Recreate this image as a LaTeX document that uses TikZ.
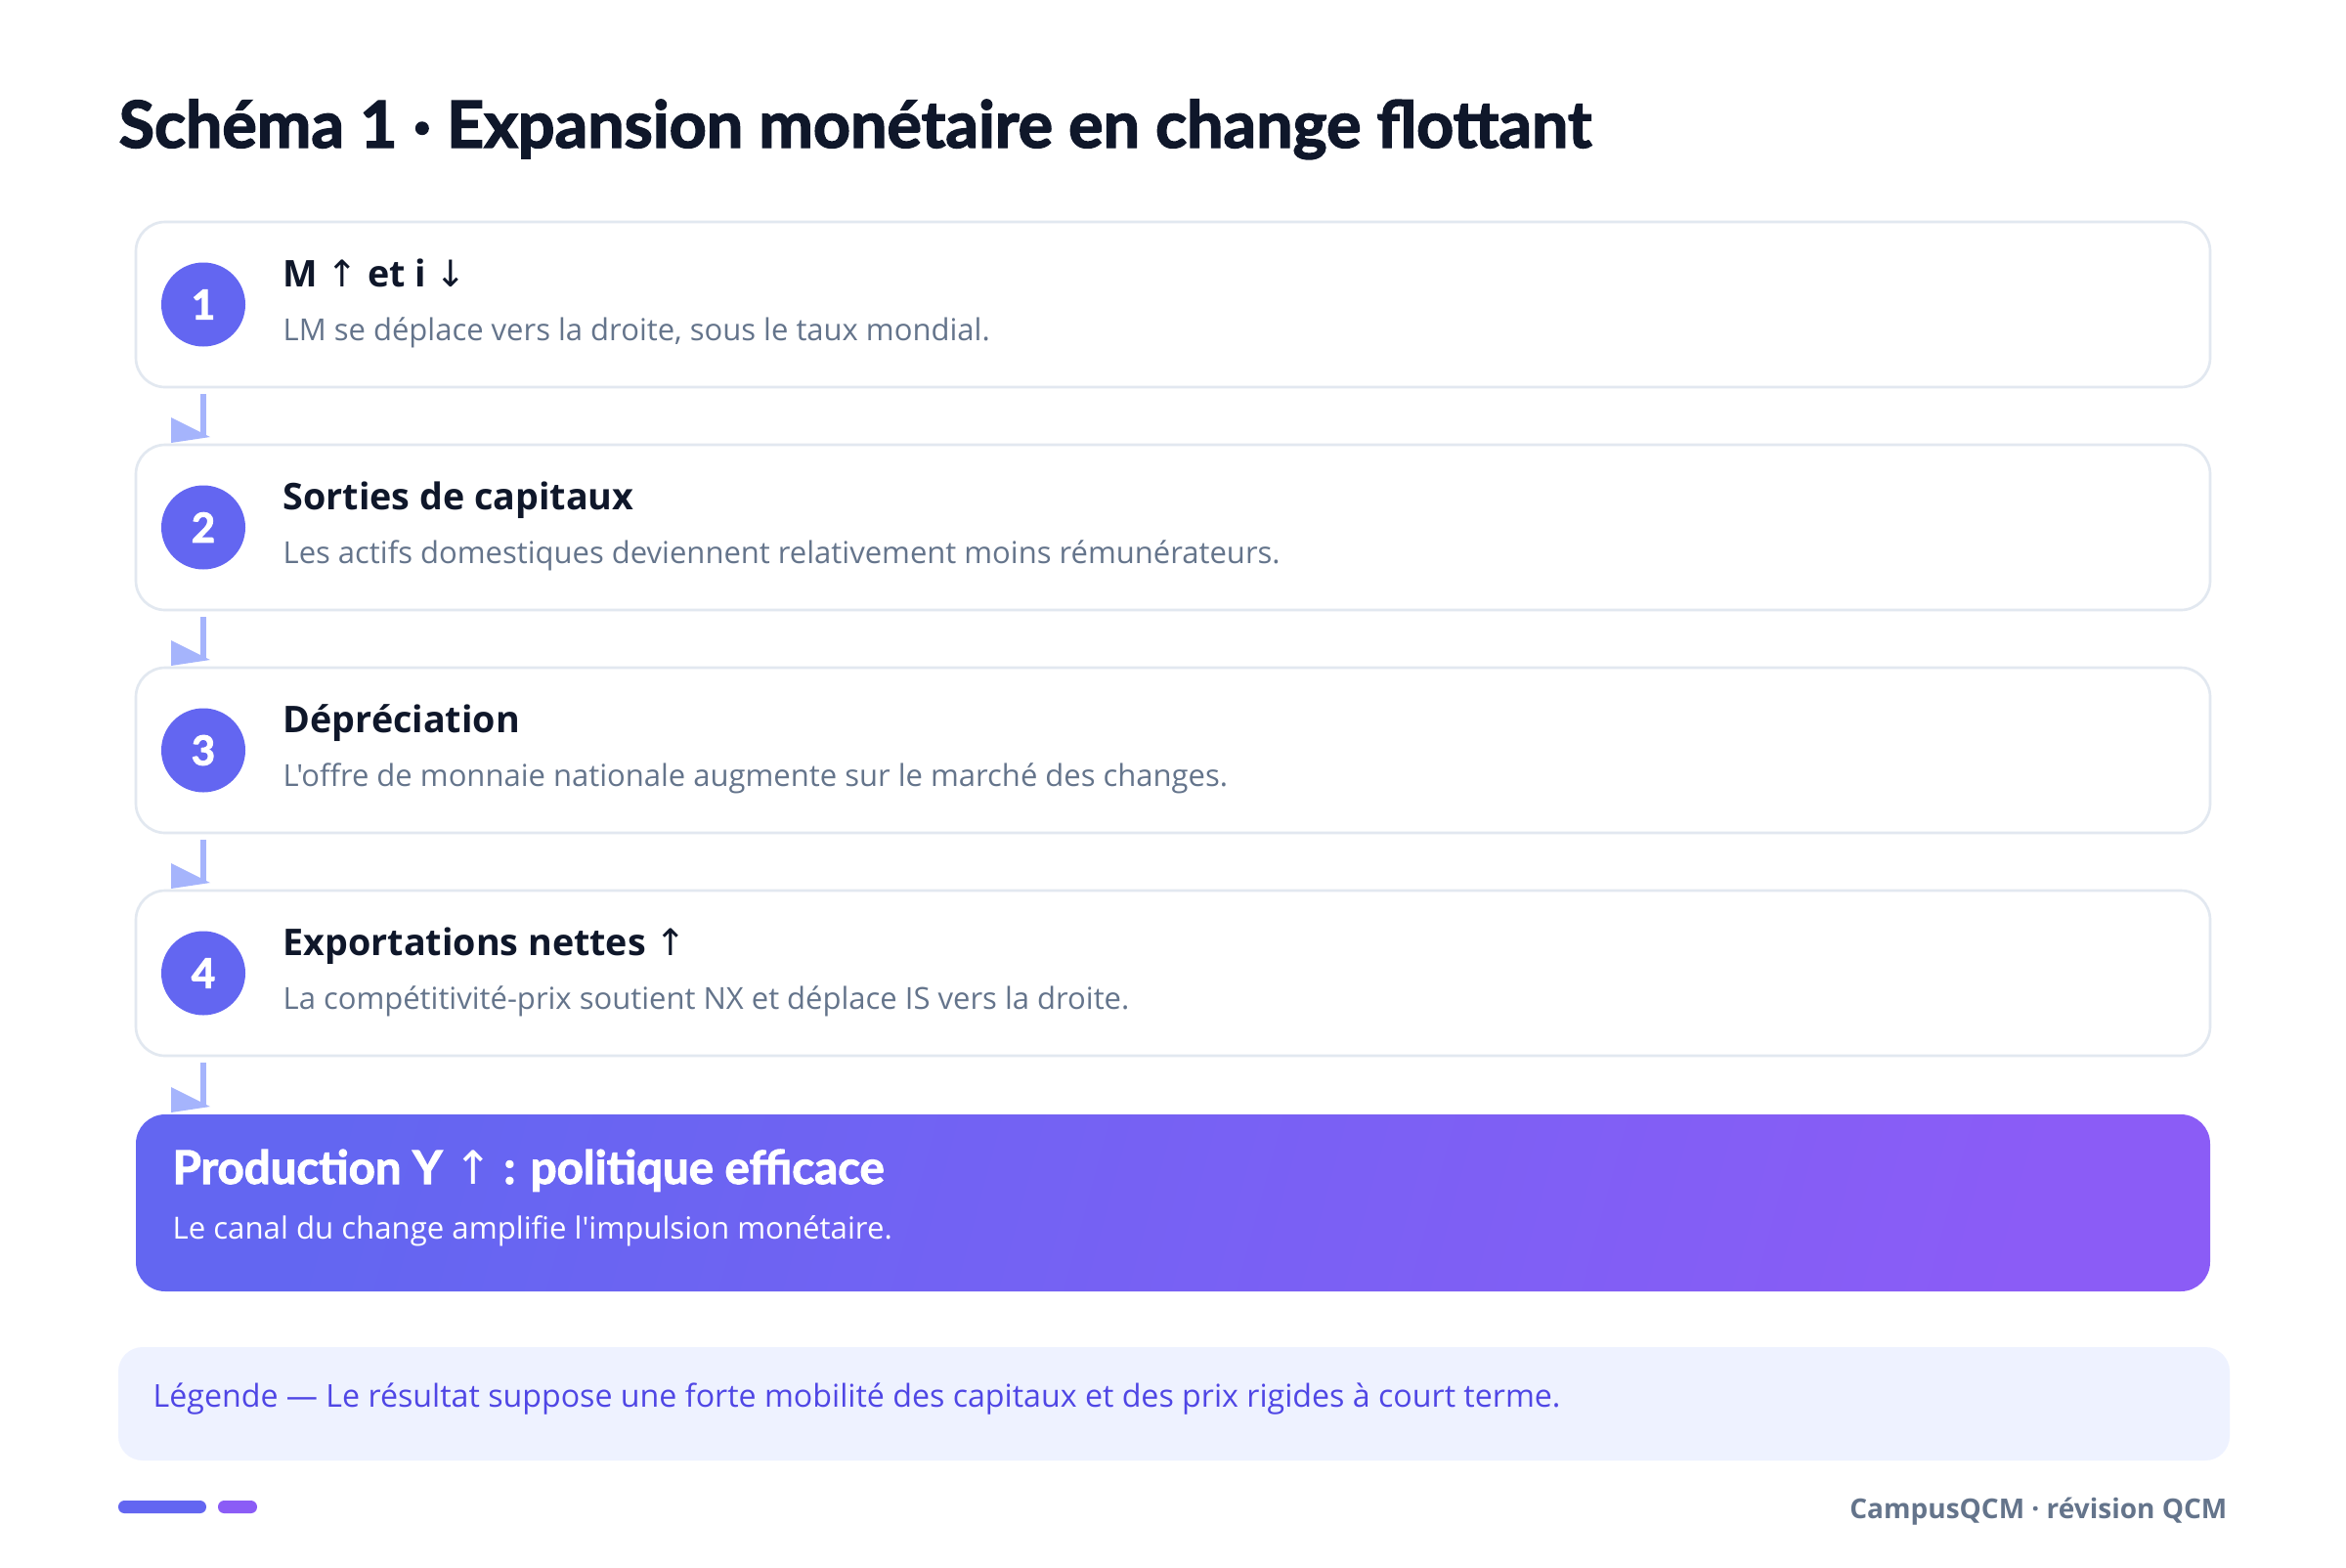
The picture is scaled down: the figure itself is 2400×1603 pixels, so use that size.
\documentclass[tikz,border=0pt]{standalone}
\usepackage{fontspec}
\usetikzlibrary{calc}
\newfontfamily\headfontbase{Lato}[BoldFeatures={FakeBold=2.2}]
\newcommand\headfont{\headfontbase\bfseries}
\newfontfamily\bodyfont{Open Sans}
\newcommand\semifont{\bodyfont\bfseries}
\newfontfamily\arrfont{DejaVu Sans}
\definecolor{ink}{HTML}{0F172A}
\definecolor{muted}{HTML}{64748B}
\definecolor{cardline}{HTML}{E2E8F0}
\definecolor{indigo}{HTML}{6366F1}
\definecolor{violet}{HTML}{8B5CF6}
\definecolor{arrowc}{HTML}{A5B4FC}
\definecolor{legendbg}{HTML}{EEF2FF}
\definecolor{legendtx}{HTML}{4F46E5}
\newcommand\uparr{{\arrfont\mdseries ↑}}
\newcommand\downarr{{\arrfont\mdseries ↓}}
\tikzset{
  card/.style={draw=cardline, line width=0.8pt, fill=white, rounded corners=9pt,
    minimum width=636.6pt, minimum height=50.7pt, inner sep=0pt, outer sep=0pt},
  badge/.style={circle, fill=indigo, minimum size=25.8pt, inner sep=0pt, text=white,
    font=\headfont\fontsize{12.6}{14}\selectfont},
  steptitle/.style={anchor=base west, inner sep=0pt, text=ink, font=\semifont\fontsize{11.3}{14}\selectfont},
  stepsub/.style={anchor=base west, inner sep=0pt, text=muted, font=\bodyfont\fontsize{9.3}{12}\selectfont},
  flowline/.style={draw=arrowc, line width=1.8pt},
  flowhead/.style={fill=arrowc},
  finalbox/.style={rounded corners=9pt, minimum width=636.6pt, minimum height=54.3pt,
    inner sep=0pt, outer sep=0pt, left color=indigo, right color=violet, shading angle=75},
  legendbox/.style={fill=legendbg, rounded corners=7.5pt, minimum width=648pt, minimum height=34.8pt,
    inner sep=0pt, outer sep=0pt},
}
\newcommand\stepcard[5]{%
  \node[card] (c#1) at (1200,#2) {};
  \node[badge] (b#1) at ($(c#1.west)+(69,0)$) {#3};
  \node[steptitle] (t#1) at ($(c#1.north west)+(150,66.7)$) {#4};
  \node[stepsub] (s#1) at ($(c#1.north west)+(150,121.7)$) {#5};
}
\newcommand\flowarrow[2]{%
  \draw[flowline] ($(#1.south west)+(69,7)$) -- ($(#2.north west)+(69,-8)$);
  \fill[flowhead] ($(#2.north west)+(36,-28)$) -- ($(#2.north west)+(76,-8)$) -- ($(#2.north west)+(36,-2)$) -- cycle;
}
\begin{document}
\begin{tikzpicture}[x=0.3pt,y=-0.3pt]
\useasboundingbox (0,0) rectangle (2400,1603);
\fill[white] (0,0) rectangle (2400,1603);
\node[anchor=base west, inner sep=0pt, text=ink, font=\headfont\fontsize{19.9}{22}\selectfont] (title) at (121,151)
  {Schéma 1 · Expansion monétaire en change flottant};
\stepcard{1}{311.5}{1}{M \uparr{} et i \downarr}{LM se déplace vers la droite, sous le taux mondial.}
\stepcard{2}{539.5}{2}{Sorties de capitaux}{Les actifs domestiques deviennent relativement moins rémunérateurs.}
\stepcard{3}{767.5}{3}{Dépréciation}{L'offre de monnaie nationale augmente sur le marché des changes.}
\stepcard{4}{995.5}{4}{Exportations nettes \uparr}{La compétitivité-prix soutient NX et déplace IS vers la droite.}
\node[finalbox] (fb) at (1200,1230.5) {};
\node[anchor=base west, inner sep=0pt, text=white, font=\headfont\fontsize{14.2}{16}\selectfont] (ft) at ($(fb.north west)+(37,71)$)
  {Production Y \uparr{} : politique efficace};
\node[anchor=base west, inner sep=0pt, text=white, font=\bodyfont\fontsize{9.35}{12}\selectfont] (fs) at ($(fb.north west)+(37,127)$)
  {Le canal du change amplifie l'impulsion monétaire.};
\flowarrow{c1}{c2}
\flowarrow{c2}{c3}
\flowarrow{c3}{c4}
\flowarrow{c4}{fb}
\node[legendbox] (lg) at (1201,1436) {};
\node[anchor=base west, inner sep=0pt, text=legendtx, font=\bodyfont\fontsize{9.65}{12}\selectfont] (lt) at ($(lg.north west)+(35,61)$)
  {Légende — Le résultat suppose une forte mobilité des capitaux et des prix rigides à court terme.};
\fill[indigo, rounded corners=1.9pt] (121,1535) rectangle (211,1548);
\fill[violet, rounded corners=1.9pt] (223,1535) rectangle (263,1548);
\node[anchor=base east, inner sep=0pt, text=muted, font=\semifont\fontsize{8.4}{11}\selectfont] (foot) at (2279,1553.5)
  {CampusQCM · révision QCM};
\end{tikzpicture}
\end{document}
